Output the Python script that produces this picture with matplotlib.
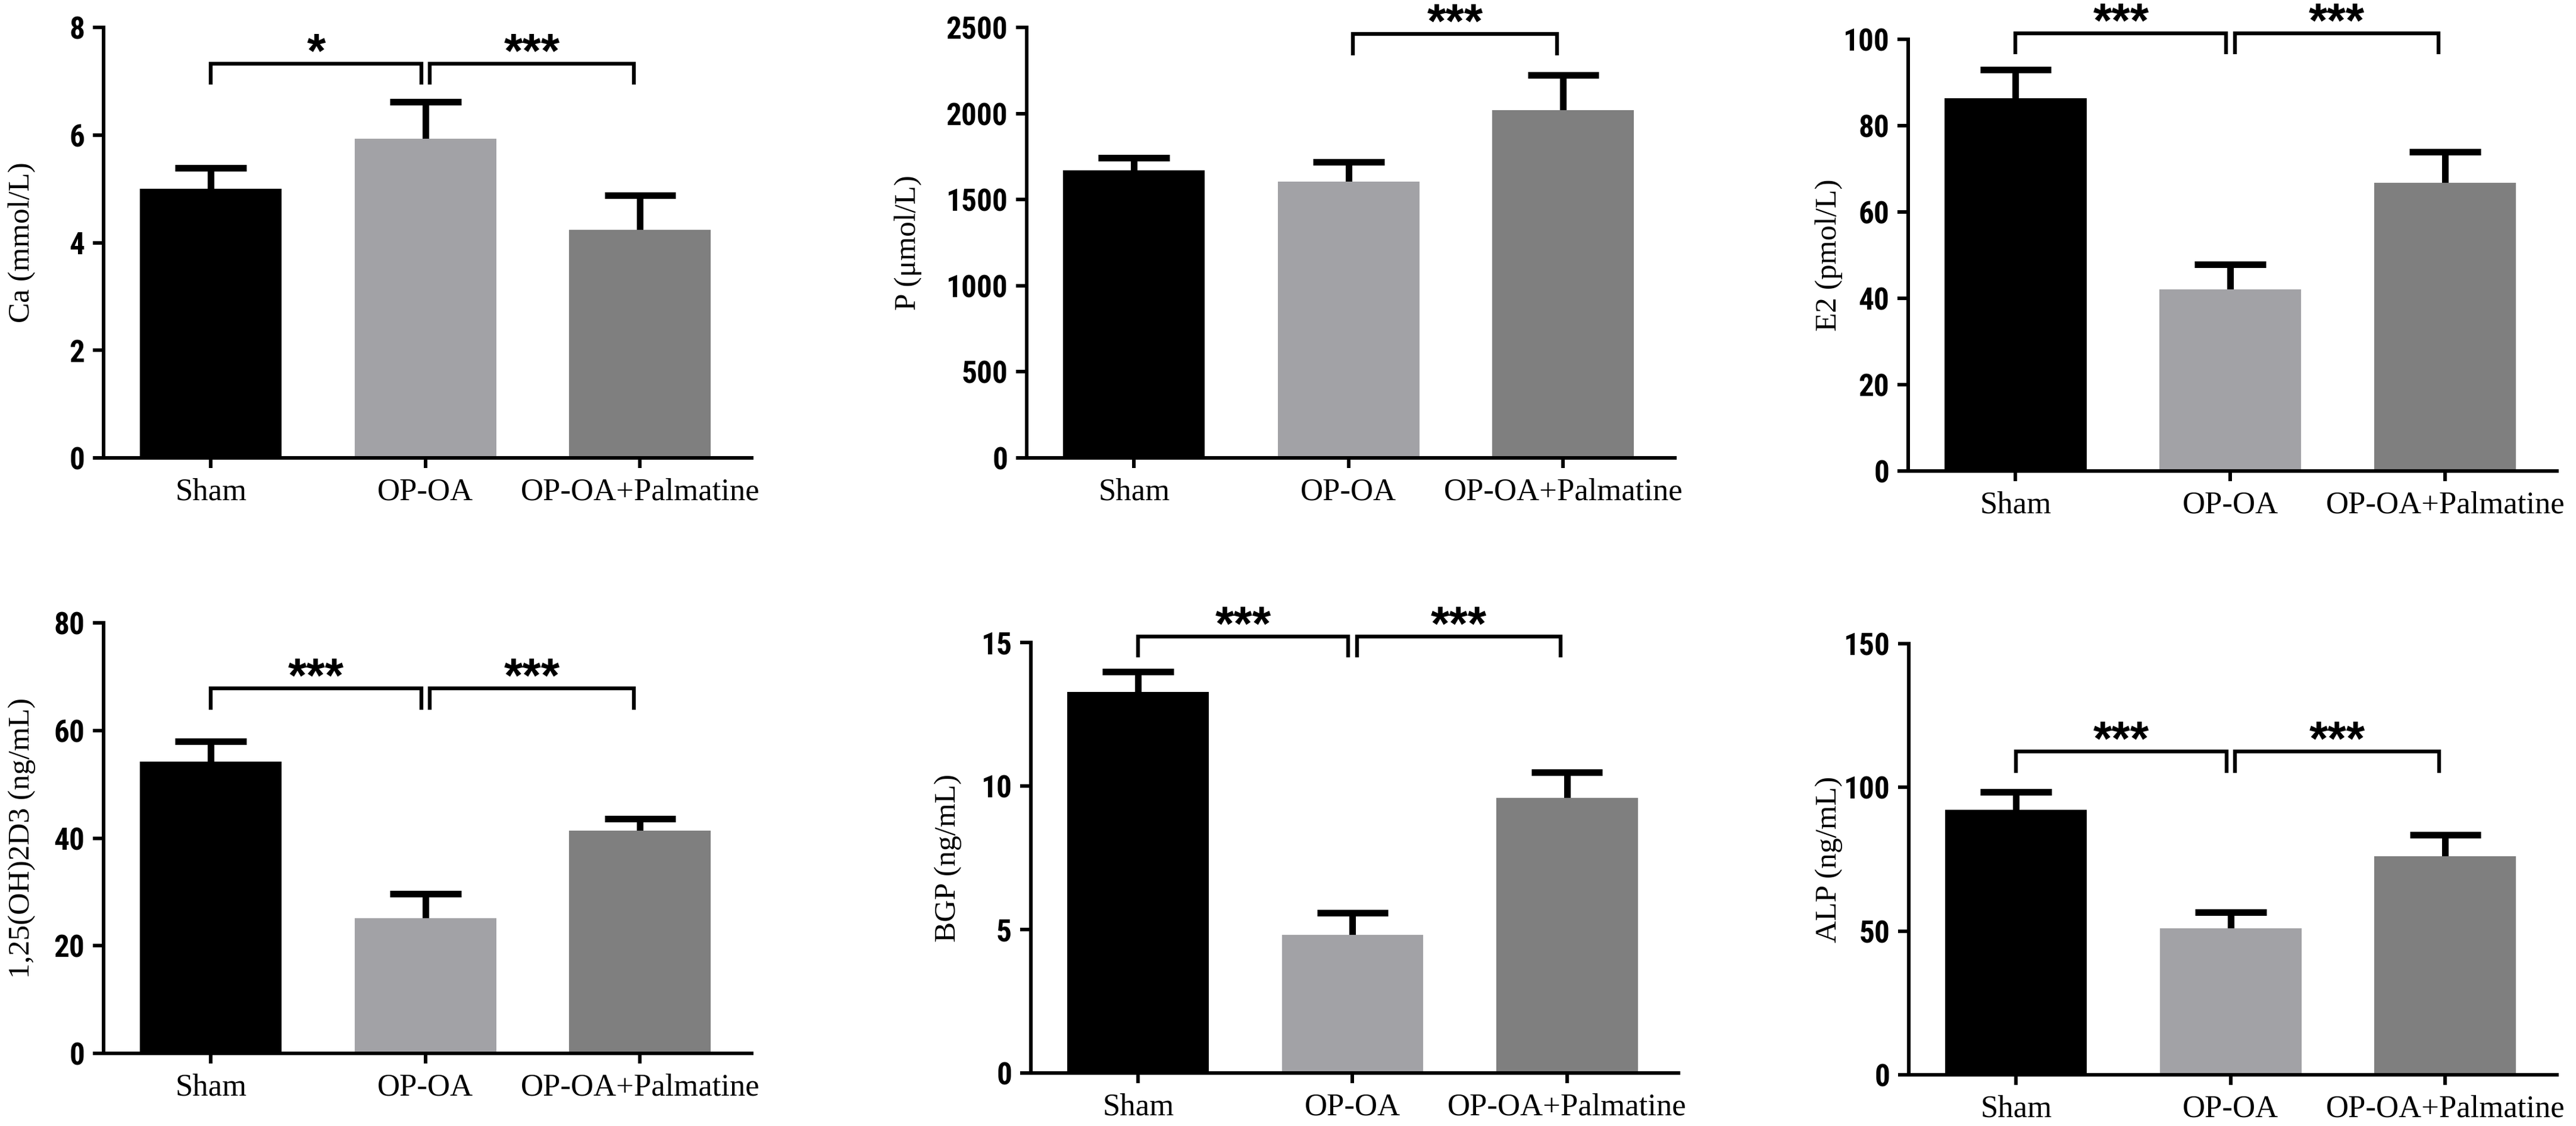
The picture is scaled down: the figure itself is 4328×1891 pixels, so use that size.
import matplotlib
matplotlib.use("Agg")
import matplotlib.pyplot as plt
import numpy as np

# ---------------- data ----------------
groups = ["Sham", "OP-OA", "OP-OA+Palmatine"]
bar_colors = ["#000000", "#a2a2a6", "#7f7f7f"]

ca_mean = [5.00, 5.93, 4.24]
ca_err = [0.39, 0.69, 0.64]
p_mean = [1671, 1605, 2019]
p_err = [73, 113, 203]
e2_mean = [86.3, 42.1, 66.8]
e2_err = [6.6, 5.7, 7.2]
vd_mean = [54.2, 25.1, 41.4]
vd_err = [3.8, 4.6, 2.2]
bgp_mean = [13.27, 4.81, 9.58]
bgp_err = [0.72, 0.78, 0.89]
alp_mean = [92.1, 51.0, 76.0]
alp_err = [6.3, 5.6, 7.5]

ylabels = ["Ca (mmol/L)", "P (\u03bcmol/L)", "E2 (pmol/L)",
           "1,25(OH)2D3 (ng/mL)", "BGP (ng/mL)", "ALP (ng/mL)"]
yticks = [[0, 2, 4, 6, 8],
          [0, 500, 1000, 1500, 2000, 2500],
          [0, 20, 40, 60, 80, 100],
          [0, 20, 40, 60, 80],
          [0, 5, 10, 15],
          [0, 50, 100, 150]]
# significance brackets: (group i, group j, label, bracket height)
ca_sig = [(0, 1, "*", 7.33), (1, 2, "***", 7.33)]
p_sig = [(1, 2, "***", 2461)]
e2_sig = [(0, 1, "***", 101.4), (1, 2, "***", 101.4)]
vd_sig = [(0, 1, "***", 67.8), (1, 2, "***", 67.8)]
bgp_sig = [(0, 1, "***", 15.21), (1, 2, "***", 15.21)]
alp_sig = [(0, 1, "***", 112.4), (1, 2, "***", 112.4)]

means = [ca_mean, p_mean, e2_mean, vd_mean, bgp_mean, alp_mean]
errs = [ca_err, p_err, e2_err, vd_err, bgp_err, alp_err]
sigs = [ca_sig, p_sig, e2_sig, vd_sig, bgp_sig, alp_sig]

# ---------------- layout (pixels) ----------------
W, H = 4328, 1891
DPI = 100
# left, zero-line y, top-tick y, right end
boxes = [(174, 769, 46, 1263),
         (1725, 769, 46, 2814),
         (3206, 791, 66, 4296),
         (174, 1769, 1046, 1263),
         (1732, 1802, 1079, 2820),
         (3207, 1805, 1081, 4296)]
ylabel_x = [37, 1526, 3073, 37, 1593, 3073]

SERIF = ["Liberation Serif", "DejaVu Serif"]
NARROW = ["Liberation Sans Narrow", "Roboto Condensed", "Liberation Sans", "DejaVu Sans"]
BOLD_SANS = ["Liberation Sans", "DejaVu Sans"]

AX_LW = 4.3
ERR_LW = 8.0
BR_LW = 4.6

fig = plt.figure(figsize=(W / DPI, H / DPI), dpi=DPI)
fig.patch.set_facecolor("white")

x = np.arange(len(groups))
for k in range(6):
    l, z, t, r = boxes[k]
    ax = fig.add_axes([l / W, 1 - z / H, (r - l) / W, (z - t) / H])
    top = yticks[k][-1]
    ax.set_xlim(-0.5, 2.52)
    ax.set_ylim(0, top)
    ax.bar(x, means[k], width=0.66, color=bar_colors, zorder=3)
    upper = np.array(means[k]) + np.array(errs[k])
    ax.vlines(x, means[k], upper, colors="black", linewidth=ERR_LW, zorder=2,
              capstyle="butt")
    ax.hlines(upper, x - 0.166, x + 0.166, colors="black", linewidth=ERR_LW,
              zorder=4, clip_on=False)
    for s in ["top", "right"]:
        ax.spines[s].set_visible(False)
    for s in ["left", "bottom"]:
        ax.spines[s].set_linewidth(AX_LW)
        ax.spines[s].set_capstyle("projecting")
        ax.spines[s].set_zorder(5)
    ax.set_yticks(yticks[k])
    ax.set_xticks(x)
    ax.set_xticklabels(groups, family=SERIF, fontsize=38)
    for lab in ax.get_yticklabels():
        lab.set_family(NARROW)
        lab.set_fontweight("bold")
        lab.set_fontsize(37)
    ax.tick_params(axis="y", direction="out", length=13, width=AX_LW, pad=10)
    ax.tick_params(axis="x", direction="out", length=12, width=AX_LW, pad=12)
    ax.patch.set_alpha(0)

    drop = 0.049 * top
    for (i, j, lab, h) in sigs[k]:
        xi = i + (0.02 if i == 1 else 0.0)
        xj = j - (0.02 if j == 1 else 0.03)
        ax.plot([xi, xi, xj, xj], [h - drop, h, h, h - drop], color="black",
                linewidth=BR_LW, solid_joinstyle="miter", solid_capstyle="butt",
                clip_on=False, zorder=6)
        ax.annotate(lab, xy=((xi + xj) / 2, h), xytext=(0, -4),
                    textcoords="offset points", ha="center", va="baseline",
                    fontsize=58, fontweight="bold", family=BOLD_SANS,
                    annotation_clip=False)

    fig.text(ylabel_x[k] / W, 1 - ((z + t) / 2) / H, ylabels[k], rotation=90,
             ha="center", va="center", family=SERIF, fontsize=37)

fig.savefig("out.png", dpi=DPI, facecolor="white")
